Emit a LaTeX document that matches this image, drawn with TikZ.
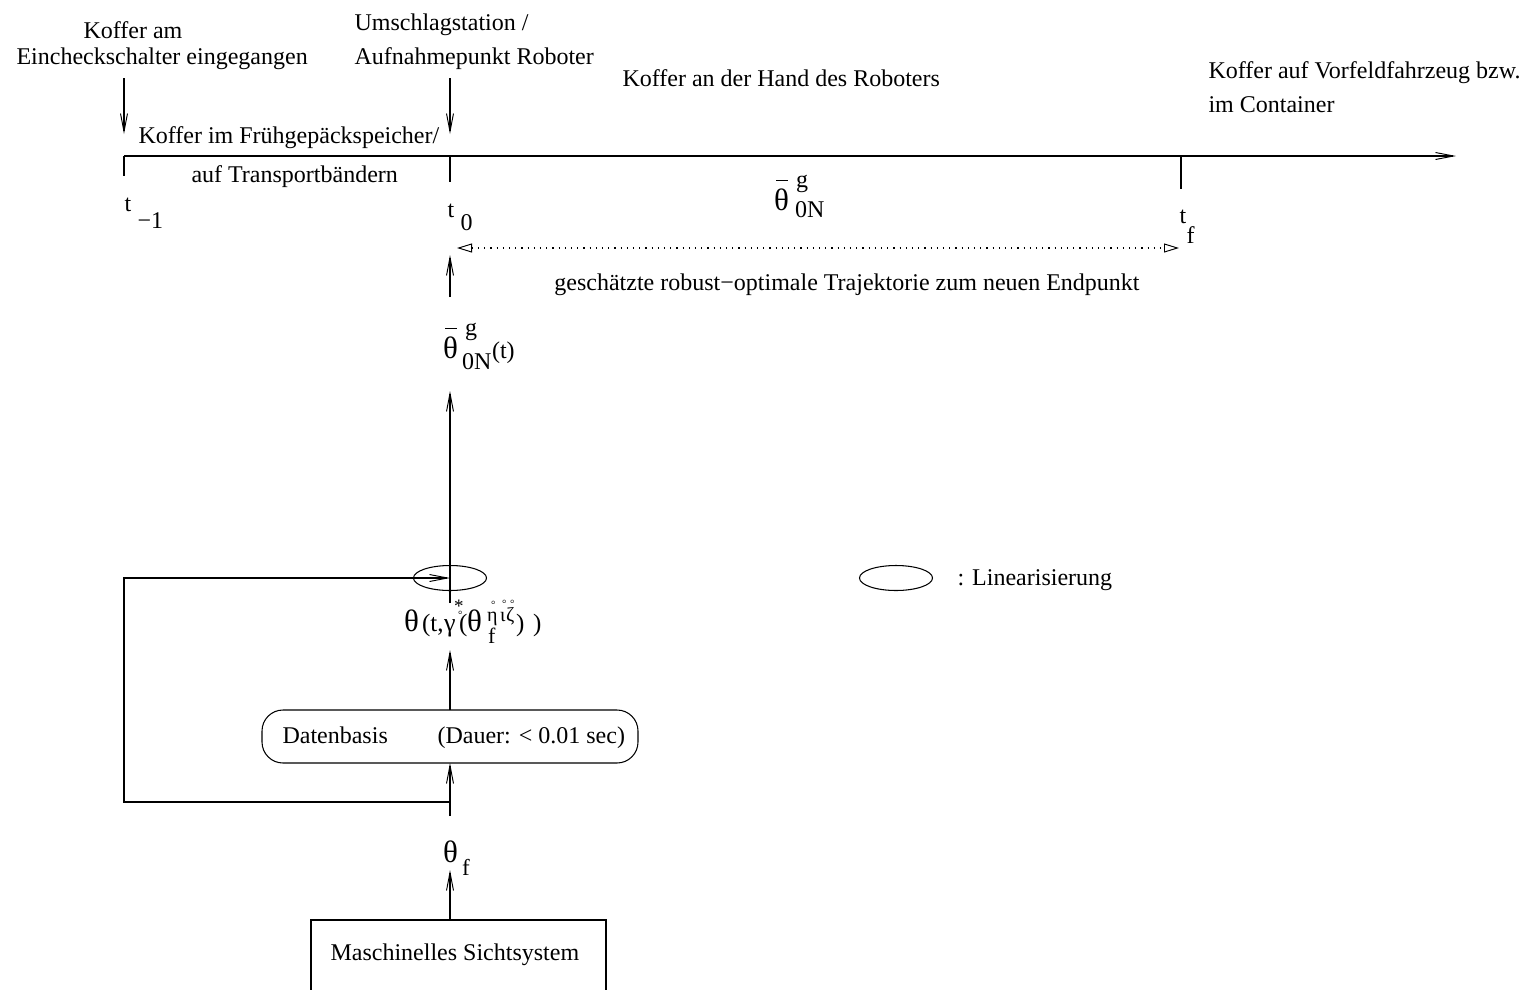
\documentclass[tikz,border=0pt]{standalone}
\usepackage{fontspec}
\setmainfont{Liberation Serif}
\usetikzlibrary{arrows.meta,shapes.geometric}
\newcommand{\fs}[1]{\fontsize{#1}{#1}\selectfont}
\newcommand{\At}[3]{\rlap{\hspace{#1pt}\raisebox{#2pt}{#3}}}
\newcommand{\BarRule}[1]{\rule{#1pt}{1.1pt}}
\begin{document}
\begin{tikzpicture}[x=1pt,y=-1pt,line width=1.05pt,
  txt/.style={font=\fs{24}, inner sep=0pt},
  mth/.style={inner sep=0pt},
  varr/.style={-{Straight Barb[length=18pt,width=7pt,line width=0.95pt]}},
  dotarr/.style={dash pattern=on 1.2pt off 5pt,line width=1.1pt,{Triangle[open,length=15pt,width=9pt,line width=0.95pt,sep=0pt]}-{Triangle[open,length=15pt,width=9pt,line width=0.95pt]}},
  linbox/.style={draw,ellipse,minimum width=73pt,minimum height=25pt,inner sep=0pt}]
\useasboundingbox (0,0) rectangle (1527,989);

% top labels
\node[txt,anchor=base] (k1) at (133,38) {Koffer am};
\node[txt,anchor=base west] (k2) at (16,64) {Eincheckschalter eingegangen};
\node[txt,anchor=base west] (u1) at (354,30) {Umschlagstation /};
\node[txt,anchor=base west] (u2) at (354,64) {Aufnahmepunkt Roboter};
\node[txt,anchor=base west] (hand) at (622,86) {Koffer an der Hand des Roboters};
\node[txt,anchor=base west] (vf1) at (1208,78) {Koffer auf Vorfeldfahrzeug bzw.};
\node[txt,anchor=base west] (vf2) at (1208,112) {im Container};
\node[txt,anchor=base west] (fg1) at (138,143) {Koffer im Frühgepäckspeicher/};
\node[txt,anchor=base west] (fg2) at (191,182) {auf Transportbändern};

% arrows down to timeline
\coordinate (a1s) at (124,78); \coordinate (a1e) at (124,134);
\coordinate (a2s) at (450,78); \coordinate (a2e) at (450,134);
\draw[varr] (a1s) -- (a1e);
\draw[varr] (a2s) -- (a2e);

% timeline
\coordinate (tl0) at (124,156); \coordinate (tl1) at (1456,156);
\coordinate (tk0) at (450,156); \coordinate (tkf) at (1181,156);
\draw[varr] (tl0) -- (tl1);
\draw (tl0) -- ++(0,20);
\draw (tk0) -- ++(0,26);
\draw (tkf) -- ++(0,33);

% time labels
\node[txt,anchor=base west] (tm1) at (124,211) {t};
\node[txt,anchor=base west] (tm1s) at (137,228) {\textminus1};
\node[txt,anchor=base west] (t0) at (447,217) {t};
\node[txt,anchor=base west] (t0s) at (460,230) {0};
\node[txt,anchor=base west] (tf) at (1179,223) {t};
\node[txt,anchor=base west] (tfs) at (1186,243) {f};

\node[mth,anchor=base west] (thtop) at (773,210) {\At{2}{29}{\BarRule{12}}\At{0}{0}{\fs{31}θ}\At{22}{23}{\fs{24}g}\At{21}{-7}{\fs{24}0N}\hspace{50pt}};

% dotted trajectory
\coordinate (d0) at (457,248); \coordinate (d1) at (1179,248);
\draw[dotarr] (d0) -- (d1);
\node[txt,anchor=base] (gesch) at (847,290) {geschätzte robust\textminus optimale Trajektorie zum neuen Endpunkt};

% upward chain
\node[mth,anchor=base west] (thN) at (442,358) {\At{2}{29}{\BarRule{12}}\At{0}{0}{\fs{31}θ}\At{22}{23}{\fs{24}g}\At{19}{-11}{\fs{24}0N}\At{49}{0}{\fs{24}(t)}\hspace{73pt}};
\coordinate (u0s) at (450,297); \coordinate (u0e) at (450,255);
\draw[varr] (u0s) -- (u0e);

\node[linbox] (lin) at (450,578) {};
\coordinate (linbot) at (450,603);
\coordinate (thNbot) at (450,391);
\draw[varr] (linbot) -- (thNbot);

\node[mth,anchor=base west] (thg) at (403,631) {\At{0}{0}{\fs{31}θ}\At{18}{0}{\fs{25}(t,}\At{40}{0}{\fs{26}γ}\At{50}{19}{\fs{19}*}\At{54}{13}{\fs{11}°}\At{55}{0}{\fs{25}(}\At{63}{0}{\fs{31}θ}\At{84}{-12}{\fs{22}f}\At{83}{10}{\fs{20}η}\At{96}{10}{\fs{20}ι}\At{102}{10}{\fs{20}ζ}\At{87}{23}{\fs{11}°}\At{98}{24}{\fs{11}°}\At{106}{24}{\fs{11}°}\At{112}{0}{\fs{25})}\At{129}{0}{\fs{25})}\hspace{138pt}};

\node[draw,rounded corners=21pt,minimum width=376pt,minimum height=53pt,inner sep=0pt] (db) at (450,736.5) {};
\node[txt,anchor=base west] (dbt1) at (282,743) {Datenbasis};
\node[txt,anchor=base west] (dbt2) at (437,743) {(Dauer: < 0.01 sec)};

\coordinate (dbtop) at (450,710); \coordinate (thgbot) at (450,650);
\draw[varr] (dbtop) -- (thgbot);

\coordinate (fb) at (450,802); \coordinate (fbs) at (450,816);
\coordinate (dbbot) at (450,763);
\draw[varr] (fbs) -- (dbbot);
\draw[varr] (fb) -- (124,802) -- (124,578) -- (lin.center);

\node[mth,anchor=base west] (thf) at (442,862) {\At{0}{0}{\fs{31}θ}\At{19}{-13}{\fs{23}f}\hspace{30pt}};

% vision box
\coordinate (boxtop) at (450,920); \coordinate (thfbot) at (450,870);
\draw[varr] (boxtop) -- (thfbot);
\draw (311,990) -- (311,920) -- (606,920) -- (606,990);
\node[txt,anchor=base west] (ms) at (330,960) {Maschinelles Sichtsystem};

% legend
\node[linbox] (leg) at (896,578) {};
\node[txt,anchor=base west] (legt) at (957,585) {: Linearisierung};
\end{tikzpicture}
\end{document}
